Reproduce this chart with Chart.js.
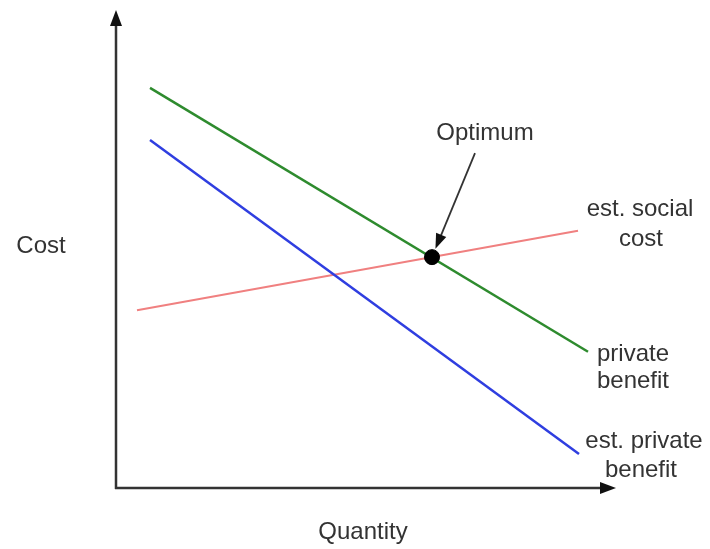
<!DOCTYPE html>
<html>
<head>
<meta charset="utf-8">
<script src="https://cdn.jsdelivr.net/npm/chart.js@4/dist/chart.umd.min.js"></script>
<style>
    html, body { margin: 0; padding: 0; background: #fff; }
    #wrap { width: 710px; height: 549px; position: relative; }
</style>
</head>
<body>
<div id="wrap"><canvas id="myChart"></canvas></div>
<script>
// Quantity / cost in arbitrary units (0..10 on both axes)
const privateBenefitX = [0.68, 9.44];
const privateBenefitY = [8.37, 2.85];
const estPrivateBenefitX = [0.68, 9.26];
const estPrivateBenefitY = [7.28, 0.71];
const estSocialCostX = [0.42, 9.24];
const estSocialCostY = [3.72, 5.38];
const optimumX = [6.32];
const optimumY = [4.83];

function toPoints(xs, ys) {
    return xs.map((x, i) => ({ x: x, y: ys[i] }));
}

const FONT = '24px "Liberation Sans", Arial, sans-serif';

const decorPlugin = {
    id: 'decor',
    afterDatasetsDraw(chart) {
        const ctx = chart.ctx;
        const xs = chart.scales.x;
        const ys = chart.scales.y;
        const ox = xs.getPixelForValue(0);
        const oy = ys.getPixelForValue(0);
        const top = ys.getPixelForValue(10);
        const right = xs.getPixelForValue(10);

        ctx.save();
        // axes
        ctx.strokeStyle = '#333';
        ctx.fillStyle = '#111';
        ctx.lineWidth = 2.5;
        ctx.beginPath();
        ctx.moveTo(ox, oy + 1);
        ctx.lineTo(ox, top + 8);
        ctx.moveTo(ox - 1, oy);
        ctx.lineTo(right - 8, oy);
        ctx.stroke();
        // arrow heads
        ctx.beginPath();
        ctx.moveTo(ox, top);
        ctx.lineTo(ox - 6, top + 16);
        ctx.lineTo(ox + 6, top + 16);
        ctx.closePath();
        ctx.fill();
        ctx.beginPath();
        ctx.moveTo(right, oy);
        ctx.lineTo(right - 16, oy - 6);
        ctx.lineTo(right - 16, oy + 6);
        ctx.closePath();
        ctx.fill();

        // pointer from the Optimum label to the dot
        const dx = xs.getPixelForValue(optimumX[0]);
        const dy = ys.getPixelForValue(optimumY[0]);
        const sx = dx + 43, sy = dy - 104;
        const ang = Math.atan2(dy - sy, dx - sx);
        const tx = dx - Math.cos(ang) * 9, ty = dy - Math.sin(ang) * 9;
        ctx.lineWidth = 1.8;
        ctx.beginPath();
        ctx.moveTo(sx, sy);
        ctx.lineTo(tx - Math.cos(ang) * 10, ty - Math.sin(ang) * 10);
        ctx.stroke();
        ctx.beginPath();
        ctx.moveTo(tx, ty);
        ctx.lineTo(tx - Math.cos(ang) * 15 + Math.sin(ang) * 5.5, ty - Math.sin(ang) * 15 - Math.cos(ang) * 5.5);
        ctx.lineTo(tx - Math.cos(ang) * 15 - Math.sin(ang) * 5.5, ty - Math.sin(ang) * 15 + Math.cos(ang) * 5.5);
        ctx.closePath();
        ctx.fill();

        // text
        ctx.font = FONT;
        ctx.fillStyle = '#333';
        ctx.textAlign = 'center';
        ctx.textBaseline = 'middle';
        ctx.fillText('Optimum', dx + 53, dy - 124);
        ctx.fillText('Cost', 41, ys.getPixelForValue(5.06));
        ctx.fillText('Quantity', xs.getPixelForValue(4.94), oy + 44);
        ctx.fillText('est. social', 640, 209);
        ctx.fillText('cost', 641, 239);
        ctx.fillText('private', 633, 354);
        ctx.fillText('benefit', 633, 381);
        ctx.fillText('est. private', 644, 441);
        ctx.fillText('benefit', 641, 470);
        ctx.restore();
    }
};

const ctx = document.getElementById('myChart').getContext('2d');
new Chart(ctx, {
    type: 'scatter',
    data: {
        datasets: [
            {
                label: 'Optimum',
                data: toPoints(optimumX, optimumY),
                backgroundColor: '#000',
                borderColor: '#000',
                pointRadius: 7.5,
                pointHoverRadius: 7.5
            },
            {
                label: 'private benefit',
                data: toPoints(privateBenefitX, privateBenefitY),
                showLine: true,
                borderColor: '#2e8b2e',
                borderWidth: 2.5,
                pointRadius: 0
            },
            {
                label: 'est. private benefit',
                data: toPoints(estPrivateBenefitX, estPrivateBenefitY),
                showLine: true,
                borderColor: '#2f3ee0',
                borderWidth: 2.5,
                pointRadius: 0
            },
            {
                label: 'est. social cost',
                data: toPoints(estSocialCostX, estSocialCostY),
                showLine: true,
                borderColor: '#f08080',
                borderWidth: 2,
                pointRadius: 0
            }
        ]
    },
    options: {
        responsive: true,
        maintainAspectRatio: false,
        animation: false,
        layout: {
            padding: { left: 116, right: 94, top: 10, bottom: 61 }
        },
        scales: {
            x: { type: 'linear', min: 0, max: 10, display: false },
            y: { type: 'linear', min: 0, max: 10, display: false }
        },
        plugins: {
            legend: { display: false },
            tooltip: { enabled: false }
        }
    },
    plugins: [decorPlugin]
});
</script>
</body>
</html>
